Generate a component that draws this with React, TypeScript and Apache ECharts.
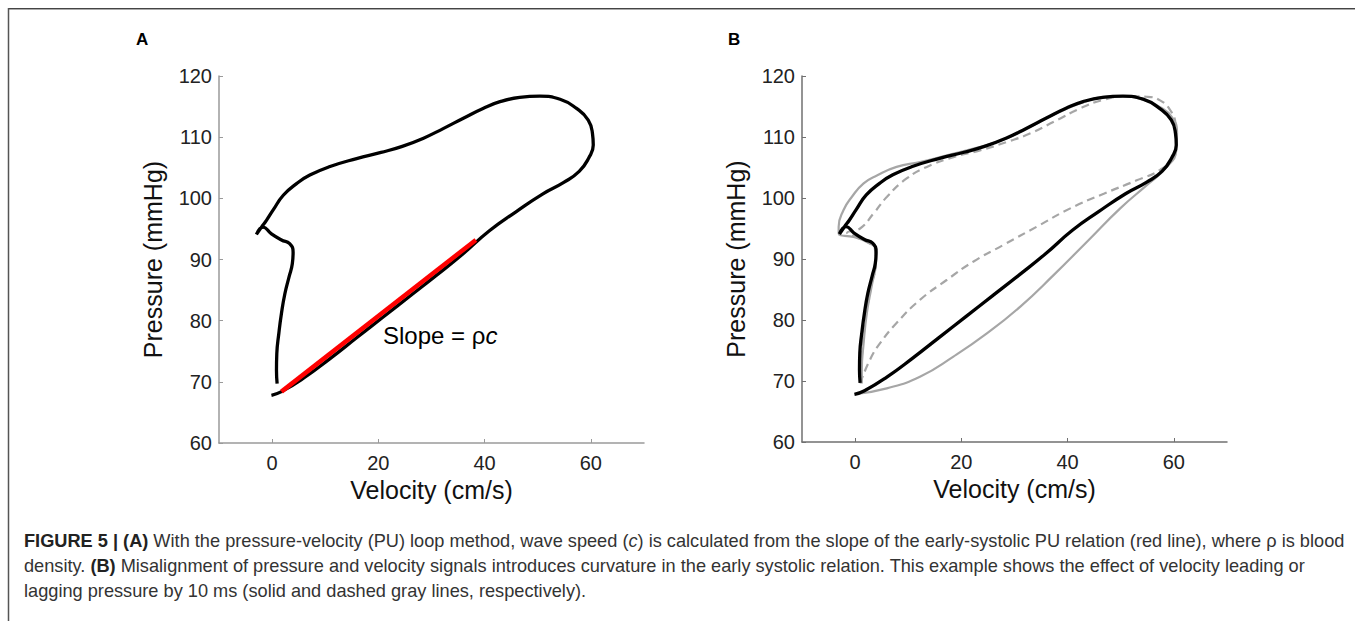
import React, { useEffect, useRef } from "react";
import * as echarts from "echarts";

// Reference PU loop (black), shared by both panels
const velBlack = [-0.13, 1.76, 5.9, 10.9, 15.9, 20.9, 25.9, 30.9, 35.9, 40.9, 45.9, 50.9, 54.9, 57.8, 59.6, 60.45, 60.3, 59.5, 57.3, 54.2, 50.4, 46.6, 42.9, 39.7, 36, 32.2, 28.4, 24.5, 20.5, 15.9, 10.9, 7.1, 4.6, 2.1, 0.2, -1.07, -2.0, -2.95, -1.7, -0.13, 1.76, 3.3, 3.95, 3.8, 3.2, 2.4, 1.76, 1.26, 0.88, 0.82, 0.94];
const presBlack = [67.8, 68.4, 70.6, 73.8, 77.2, 80.6, 84.0, 87.4, 90.9, 94.7, 97.8, 100.7, 102.6, 104.4, 106.6, 108.7, 110.6, 112.8, 114.7, 116.2, 116.7, 116.5, 115.8, 114.7, 113.1, 111.4, 109.8, 108.5, 107.5, 106.5, 105.2, 103.8, 102.4, 100.5, 98.1, 96.4, 95.3, 94.1, 95.3, 94.2, 93.2, 92.6, 91.2, 89.3, 87.2, 84.4, 81.2, 77.9, 74.6, 71.9, 69.7];

// Early-systolic linear fit (red line, panel A)
const velRed = [1.76, 38.35];
const presRed = [68.4, 93.2];

// Velocity leading pressure by 10 ms (solid gray, panel B)
const velLead = [0.3, 5.96, 12.2, 18.5, 24.8, 31.1, 37.4, 43.6, 49.9, 54.9, 58.7, 60.45, 60.6, 59.6, 57.4, 54.3, 50.5, 46.8, 43.0, 39.2, 34.8, 31.1, 26.7, 22.3, 17.3, 12.2, 7.8, 4.1, 1.6, -0.6, -2.2, -3.1, -3.1, -0.3, 2.2, 3.8, 3.95, 3.1, 2.2, 1.6, 1.26, 1.26];
const presLead = [67.9, 68.8, 70.7, 74.0, 77.8, 82.2, 87.4, 92.8, 98.3, 102.1, 105.1, 107.8, 110.8, 113.3, 114.9, 116.1, 116.7, 116.6, 115.7, 114.4, 112.5, 110.8, 109.2, 108.1, 107.0, 105.9, 105.1, 103.7, 102.4, 100.2, 98.0, 95.3, 94.2, 93.6, 92.8, 91.7, 89.8, 85.5, 81.1, 76.2, 71.8, 69.6];

// Velocity lagging pressure by 10 ms (dashed gray, panel B)
const velLag = [0.94, 2.8, 4.7, 7.8, 12.2, 17.3, 22.3, 27.9, 34.2, 40.5, 46.8, 53.0, 57.4, 59.8, 60.45, 60.3, 59.3, 57.4, 54.9, 51.2, 46.8, 42.4, 37.4, 33.0, 28.6, 23.5, 18.5, 13.5, 9.7, 6.0, 3.5, 0.94, -1.5, 0.5, 2.5, 3.8, 3.9, 3.0, 2.0, 1.4, 1.0];
const presLag = [69.6, 73.5, 76.2, 79.5, 83.3, 86.6, 89.6, 92.3, 95.3, 98.3, 100.7, 102.9, 104.6, 106.7, 109.5, 112.2, 114.4, 116.0, 116.6, 116.7, 116.1, 114.7, 112.5, 110.6, 109.2, 107.8, 106.7, 105.1, 103.2, 100.2, 97.5, 95.0, 94.3, 93.5, 92.7, 91.3, 89.5, 85.5, 80.5, 75.5, 71.0];

const xTicks = [0, 20, 40, 60];

const FONT = "'Liberation Sans', Arial, Helvetica, sans-serif";
const SMOOTH = 0.5;

const pairs = (xs: number[], ys: number[]) => xs.map((x, i) => [x, ys[i]]);

function xAxisFor(gridIndex: number, color: string) {
  return {
    type: "value",
    gridIndex,
    min: -10,
    max: 70,
    interval: 10,
    name: "Velocity (cm/s)",
    nameLocation: "middle",
    nameGap: 34,
    nameTextStyle: { fontSize: 25, color: "#111", fontFamily: FONT },
    axisLine: { show: true, onZero: false, lineStyle: { color, width: 1.5 } },
    axisTick: { show: true, inside: true, length: 4, customValues: xTicks, lineStyle: { color, width: 1 } },
    axisLabel: { customValues: xTicks, fontSize: 20, color: "#222", fontFamily: FONT, margin: 10 },
    splitLine: { show: false },
  };
}

function yAxisFor(gridIndex: number, color: string) {
  return {
    type: "value",
    gridIndex,
    min: 60,
    max: 120,
    interval: 10,
    name: "Pressure (mmHg)",
    nameLocation: "middle",
    nameGap: 54,
    nameTextStyle: { fontSize: 25, color: "#111", fontFamily: FONT },
    axisLine: { show: true, onZero: false, lineStyle: { color, width: 1.5 } },
    axisTick: { show: true, inside: true, length: 4, lineStyle: { color, width: 1 } },
    axisLabel: { fontSize: 20, color: "#222", fontFamily: FONT, margin: 7 },
    splitLine: { show: false },
  };
}

const CAP = 18.2;
const captionStyles = {
  n: { fontSize: CAP, fontFamily: FONT, fill: "#333" },
  b: { fontSize: CAP, fontFamily: FONT, fill: "#222", fontWeight: "bold" },
  i: { fontSize: CAP, fontFamily: FONT, fill: "#333", fontStyle: "italic" },
};

export default function App() {
  const ref = useRef<HTMLDivElement>(null);
  useEffect(() => {
    if (!ref.current) return;
    const chart = echarts.init(ref.current, undefined, { renderer: "svg" });
    chart.setOption({
      animation: false,
      backgroundColor: "#ffffff",
      grid: [
        { left: 219, right: 711, top: 76, bottom: 178 },
        { left: 802, right: 128, top: 76, bottom: 179 },
      ],
      xAxis: [xAxisFor(0, "#9a9a9a"), xAxisFor(1, "#707070")],
      yAxis: [yAxisFor(0, "#9a9a9a"), yAxisFor(1, "#707070")],
      series: [
        {
          type: "line", xAxisIndex: 0, yAxisIndex: 0, data: pairs(velBlack, presBlack),
          showSymbol: false, smooth: SMOOTH, lineStyle: { color: "#000", width: 3.3 }, z: 3,
        },
        {
          type: "line", xAxisIndex: 0, yAxisIndex: 0, data: pairs(velRed, presRed),
          showSymbol: false, lineStyle: { color: "#ff0000", width: 4.5 }, z: 4,
        },
        {
          type: "line", xAxisIndex: 1, yAxisIndex: 1, data: pairs(velLead, presLead),
          showSymbol: false, smooth: SMOOTH, lineStyle: { color: "#a6a6a6", width: 2.2 }, z: 2,
        },
        {
          type: "line", xAxisIndex: 1, yAxisIndex: 1, data: pairs(velLag, presLag),
          showSymbol: false, smooth: SMOOTH, lineStyle: { color: "#a6a6a6", width: 2.2, type: [8, 5] }, z: 2,
        },
        {
          type: "line", xAxisIndex: 1, yAxisIndex: 1, data: pairs(velBlack, presBlack),
          showSymbol: false, smooth: SMOOTH, lineStyle: { color: "#000", width: 3.3 }, z: 3,
        },
      ],
      graphic: [
        { type: "line", shape: { x1: 8, y1: 8.5, x2: 1355, y2: 8.5 }, style: { stroke: "#444", lineWidth: 1 } },
        { type: "line", shape: { x1: 8, y1: 9.5, x2: 1355, y2: 9.5 }, style: { stroke: "#aaa", lineWidth: 1 } },
        { type: "line", shape: { x1: 8.5, y1: 8, x2: 8.5, y2: 621 }, style: { stroke: "#555", lineWidth: 1.5 } },
        { type: "text", left: 136, top: 31, style: { text: "A", fontSize: 17, fontWeight: "bold", fontFamily: FONT, fill: "#000" } },
        { type: "text", left: 728, top: 31, style: { text: "B", fontSize: 17, fontWeight: "bold", fontFamily: FONT, fill: "#000" } },
        {
          type: "text", left: 383, top: 323,
          style: {
            text: "{a|Slope = ρ}{c|c}",
            rich: {
              a: { fontSize: 24, fontFamily: FONT, fill: "#000" },
              c: { fontSize: 24, fontFamily: FONT, fill: "#000", fontStyle: "italic" },
            },
          },
        },
        {
          type: "text", left: 24, top: 532,
          style: {
            text: "{b|FIGURE 5 | (A)}{n| With the pressure-velocity (PU) loop method, wave speed (}{i|c}{n|) is calculated from the slope of the early-systolic PU relation (red line), where ρ is blood}",
            rich: captionStyles,
          },
        },
        {
          type: "text", left: 24, top: 557,
          style: {
            text: "{n|density. }{b|(B)}{n| Misalignment of pressure and velocity signals introduces curvature in the early systolic relation. This example shows the effect of velocity leading or}",
            rich: captionStyles,
          },
        },
        {
          type: "text", left: 24, top: 582,
          style: {
            text: "{n|lagging pressure by 10 ms (solid and dashed gray lines, respectively).}",
            rich: captionStyles,
          },
        },
      ],
    });
    return () => chart.dispose();
  }, []);
  return (
    <div
      ref={ref}
      style={{ position: "fixed", left: 0, top: 0, width: 1355, height: 621, background: "#fff" }}
    />
  );
}
